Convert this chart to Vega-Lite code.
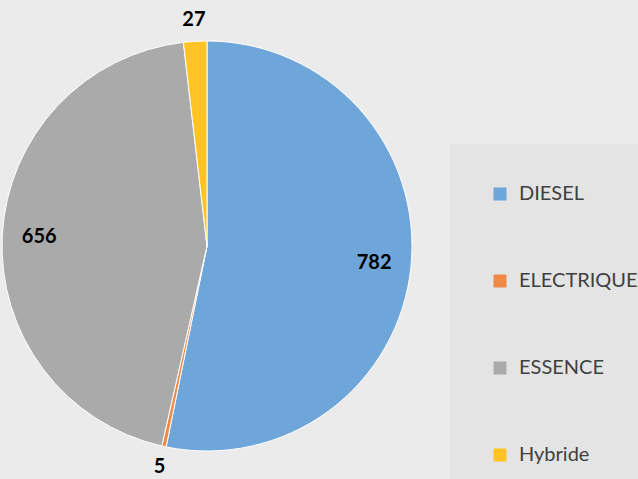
{
  "$schema": "https://vega.github.io/schema/vega-lite/v6.json",
  "width": 414,
  "height": 466,
  "autosize": "none",
  "padding": {"left": 0, "top": 13, "right": 224, "bottom": 0},
  "background": "#ebebeb",
  "data": {
    "values": [
      {"type": "DIESEL", "count": 782},
      {"type": "ELECTRIQUE", "count": 5},
      {"type": "ESSENCE", "count": 656},
      {"type": "Hybride", "count": 27}
    ]
  },
  "encoding": {
    "theta": {"field": "count", "type": "quantitative", "stack": true},
    "order": {"field": "type", "type": "ordinal", "sort": "ascending"}
  },
  "layer": [
    {
      "mark": {"type": "arc", "outerRadius": 205, "stroke": "#ffffff", "strokeWidth": 1},
      "encoding": {
        "color": {
          "field": "type",
          "type": "nominal",
          "scale": {
            "domain": ["DIESEL", "ELECTRIQUE", "ESSENCE", "Hybride"],
            "range": ["#6fa6da", "#ee8946", "#aaaaaa", "#ffc423"]
          },
          "legend": {
            "orient": "none",
            "legendX": 450,
            "legendY": 131,
            "title": null,
            "fillColor": "#e4e4e4",
            "padding": 40,
            "rowPadding": 67,
            "symbolType": "square",
            "symbolSize": 169,
            "symbolStrokeWidth": 0,
            "labelFontSize": 20,
            "labelFont": "Lato",
            "labelColor": "#404040",
            "labelOffset": 9
          }
        }
      }
    },
    {
      "mark": {"type": "text", "radius": 168, "fontSize": 20, "fontWeight": "bold", "font": "Lato", "color": "#000000"},
      "encoding": {
        "detail": {"field": "type", "type": "nominal"},
        "text": {"condition": {"test": "datum.count > 100", "field": "count", "type": "quantitative"}, "value": ""}
      }
    },
    {
      "mark": {"type": "text", "radius": 226, "fontSize": 20, "fontWeight": "bold", "font": "Lato", "color": "#000000"},
      "encoding": {
        "detail": {"field": "type", "type": "nominal"},
        "text": {"condition": {"test": "datum.count <= 100", "field": "count", "type": "quantitative"}, "value": ""}
      }
    }
  ],
  "config": {"view": {"stroke": null}}
}
